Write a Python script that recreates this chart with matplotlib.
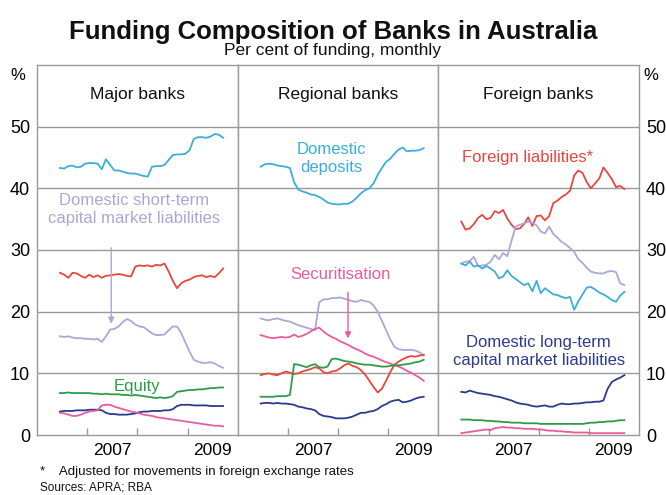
import numpy as np
import matplotlib
matplotlib.use("Agg")
import matplotlib.pyplot as plt

plt.rcParams['font.family'] = ['Liberation Sans', 'DejaVu Sans']

# ---------------- data (per cent of funding, monthly, Jun 2006 - Sep 2009) ----------------
n_months = 40
start_year = 2006 + 5.5 / 12
panels = ["Major banks", "Regional banks", "Foreign banks"]
year_ticks = [2007, 2008, 2009]
year_labels = ["2007", "2009"]
ytick_vals = [0, 10, 20, 30, 40, 50]

major_deposits = [43.3, 43.2, 43.6, 43.7, 43.4, 43.5, 44.0, 44.1, 44.1, 44.0, 43.1, 44.7, 43.8, 42.9,
                  42.9, 42.7, 42.5, 42.4, 42.4, 42.2, 42.0, 41.9, 43.5, 43.6, 43.6, 43.8, 44.6, 45.4,
                  45.5, 45.5, 45.6, 46.2, 48.0, 48.3, 48.3, 48.2, 48.4, 48.8, 48.7, 48.2]
major_foreign = [26.3, 26.0, 25.5, 26.3, 26.2, 25.8, 25.5, 26.0, 25.6, 25.9, 25.5, 25.8, 25.9, 26.0,
                 26.1, 26.0, 25.8, 25.7, 27.3, 27.5, 27.4, 27.5, 27.3, 27.6, 27.5, 27.8, 26.5, 25.0,
                 23.8, 24.6, 25.0, 25.2, 25.6, 25.8, 25.9, 25.6, 25.8, 25.6, 26.2, 27.0]
major_short = [16.0, 15.9, 16.0, 15.8, 15.7, 15.7, 15.6, 15.6, 15.5, 15.6, 15.1, 16.0, 17.1, 17.2,
               17.6, 18.3, 18.8, 18.5, 17.9, 17.6, 17.5, 17.0, 16.5, 16.2, 16.2, 16.3, 17.0, 17.6,
               17.6, 16.5, 15.0, 13.5, 12.2, 11.9, 11.7, 11.7, 11.8, 11.6, 11.2, 10.9]
major_equity = [6.8, 6.8, 6.9, 6.8, 6.8, 6.8, 6.8, 6.8, 6.7, 6.7, 6.6, 6.7, 6.6, 6.6,
                6.6, 6.5, 6.5, 6.4, 6.5, 6.4, 6.3, 6.2, 6.1, 6.0, 6.1, 6.0, 6.1, 6.3,
                7.0, 7.1, 7.2, 7.3, 7.3, 7.4, 7.4, 7.5, 7.6, 7.6, 7.7, 7.7]
major_long = [3.8, 3.9, 3.9, 3.9, 4.0, 4.0, 4.0, 4.1, 4.1, 4.1, 4.0, 3.6, 3.4, 3.4,
              3.3, 3.3, 3.3, 3.4, 3.5, 3.7, 3.8, 3.8, 3.9, 3.9, 3.9, 4.0, 4.0, 4.2,
              4.7, 4.9, 4.9, 4.9, 4.8, 4.8, 4.8, 4.8, 4.7, 4.7, 4.7, 4.7]
major_secur = [3.6, 3.5, 3.3, 3.1, 3.1, 3.3, 3.6, 3.8, 3.9, 4.0, 4.8, 4.9, 4.9, 4.6,
               4.4, 4.2, 4.0, 3.8, 3.7, 3.5, 3.3, 3.2, 3.1, 2.9, 2.8, 2.7, 2.6, 2.5,
               2.4, 2.3, 2.2, 2.1, 2.0, 1.9, 1.8, 1.7, 1.6, 1.5, 1.5, 1.4]

regional_deposits = [43.5, 43.9, 44.0, 43.9, 43.7, 43.6, 43.5, 43.3, 41.0, 39.8, 39.5, 39.3, 39.0, 38.9,
                     38.6, 38.2, 37.7, 37.5, 37.4, 37.4, 37.5, 37.5, 37.9, 38.5, 39.2, 39.7, 40.0, 40.8,
                     42.2, 43.3, 44.3, 44.8, 45.6, 46.3, 46.6, 46.0, 46.1, 46.1, 46.2, 46.5]
regional_short = [18.9, 18.7, 18.6, 18.8, 18.9, 18.7, 18.5, 18.4, 18.1, 17.8, 17.6, 17.4, 17.2, 17.0,
                  21.5, 22.0, 22.0, 22.2, 22.2, 22.3, 22.1, 21.9, 21.7, 21.6, 21.9, 21.7, 21.6, 21.0,
                  20.0, 18.5, 17.0, 15.5, 14.3, 13.9, 13.8, 13.8, 13.8, 13.7, 13.4, 12.9]
regional_secur = [16.2, 16.0, 15.8, 15.7, 15.8, 15.9, 15.8, 15.9, 16.3, 15.9, 16.1, 16.4, 16.8, 17.2,
                  17.4, 16.8, 16.3, 15.9, 15.6, 15.2, 14.9, 14.6, 14.2, 13.9, 13.6, 13.2, 12.9, 12.7,
                  12.4, 12.1, 11.8, 11.6, 11.3, 11.1, 10.8, 10.4, 10.1, 9.7, 9.3, 8.8]
regional_foreign = [9.7, 9.9, 10.0, 9.8, 9.7, 10.0, 10.3, 10.1, 9.9, 10.0, 10.3, 10.5, 10.7, 11.0,
                    10.8, 10.2, 10.0, 10.3, 10.4, 10.8, 11.3, 11.6, 11.2, 11.0, 10.5, 9.8, 8.8, 7.8,
                    6.9, 7.5, 8.8, 10.2, 11.4, 11.9, 12.3, 12.6, 12.8, 12.7, 12.9, 13.0]
regional_equity = [6.2, 6.2, 6.2, 6.2, 6.3, 6.3, 6.3, 6.5, 11.5, 11.4, 11.2, 11.0, 11.3, 11.5,
                   11.0, 10.9, 11.1, 12.3, 12.4, 12.2, 12.0, 11.9, 11.8, 11.6, 11.5, 11.4, 11.4, 11.3,
                   11.2, 11.1, 11.1, 11.2, 11.3, 11.3, 11.4, 11.5, 11.6, 11.8, 11.9, 12.2]
regional_long = [5.1, 5.2, 5.2, 5.1, 5.2, 5.1, 5.1, 5.0, 4.9, 4.6, 4.5, 4.3, 4.2, 4.0,
                 3.4, 3.1, 3.0, 2.9, 2.7, 2.7, 2.7, 2.8, 3.0, 3.3, 3.6, 3.6, 3.8, 3.9,
                 4.2, 4.7, 5.0, 5.4, 5.6, 5.7, 5.3, 5.4, 5.6, 5.9, 6.1, 6.2]

foreign_foreign = [34.6, 33.3, 33.5, 34.2, 35.2, 35.7, 35.0, 35.2, 36.3, 36.0, 36.5, 35.1, 34.1, 33.4,
                   33.5, 34.2, 35.3, 33.9, 35.5, 35.6, 34.8, 35.5, 37.6, 38.0, 38.6, 39.0, 39.6, 42.1,
                   42.9, 42.5, 41.0, 40.0, 40.8, 41.6, 43.4, 42.5, 41.5, 40.2, 40.4, 39.9]
foreign_short = [27.8, 28.1, 28.2, 28.9, 27.4, 27.5, 27.6, 28.1, 29.2, 28.5, 29.5, 29.0, 31.5, 33.8,
                 34.1, 34.3, 34.6, 34.4, 34.0, 33.0, 32.7, 33.8, 32.6, 32.0, 31.3, 30.9, 30.3, 29.7,
                 28.5, 27.9, 27.1, 26.5, 26.3, 26.2, 26.2, 26.5, 26.6, 26.4, 24.6, 24.3]
foreign_deposits = [27.8, 27.5, 28.1, 27.3, 27.5, 27.0, 27.4, 27.0, 26.5, 25.4, 25.7, 26.7, 25.8, 25.3,
                    24.8, 24.3, 24.6, 23.3, 25.0, 23.0, 23.8, 23.3, 22.8, 22.7, 22.4, 22.2, 22.4, 20.3,
                    21.7, 22.8, 23.9, 24.0, 23.6, 23.1, 22.8, 22.4, 21.9, 21.6, 22.6, 23.2]
foreign_long = [7.0, 6.9, 7.2, 7.0, 6.8, 6.7, 6.6, 6.5, 6.3, 6.2, 6.0, 5.8, 5.6, 5.3,
                5.1, 5.0, 4.9, 4.7, 4.6, 4.7, 4.8, 4.6, 4.6, 4.9, 5.1, 5.0, 5.0, 5.1,
                5.1, 5.2, 5.3, 5.3, 5.4, 5.4, 5.6, 7.5, 8.6, 9.0, 9.3, 9.7]
foreign_equity = [2.5, 2.5, 2.5, 2.4, 2.4, 2.4, 2.3, 2.3, 2.2, 2.2, 2.1, 2.1, 2.0, 2.0,
                  2.0, 1.9, 1.9, 1.9, 1.9, 1.8, 1.8, 1.8, 1.8, 1.8, 1.8, 1.8, 1.8, 1.8,
                  1.8, 1.8, 1.9, 2.0, 2.0, 2.1, 2.1, 2.2, 2.2, 2.3, 2.4, 2.4]
foreign_secur = [0.3, 0.4, 0.5, 0.6, 0.7, 0.8, 0.9, 0.8, 1.1, 1.2, 1.3, 1.2, 1.2, 1.1,
                 1.1, 1.0, 1.0, 1.0, 0.9, 0.9, 0.8, 0.7, 0.7, 0.6, 0.6, 0.5, 0.5, 0.4,
                 0.4, 0.4, 0.4, 0.3, 0.3, 0.3, 0.3, 0.3, 0.3, 0.3, 0.3, 0.3]

# ---------------- style ----------------
C_DEP = '#3AAFD8'
C_FOR = '#E8473C'
C_SHORT = '#ABA8D8'
C_EQ = '#2F9B4A'
C_LONG = '#2C3A8F'
C_SEC = '#E95C9E'
GRID = '#9A9A9A'
LABEL_FS = 12

x = start_year + np.arange(n_months) / 12.0

panel_series = [
    [(major_deposits, C_DEP), (major_foreign, C_FOR), (major_short, C_SHORT),
     (major_equity, C_EQ), (major_long, C_LONG), (major_secur, C_SEC)],
    [(regional_deposits, C_DEP), (regional_short, C_SHORT), (regional_secur, C_SEC),
     (regional_foreign, C_FOR), (regional_equity, C_EQ), (regional_long, C_LONG)],
    [(foreign_foreign, C_FOR), (foreign_short, C_SHORT), (foreign_deposits, C_DEP),
     (foreign_long, C_LONG), (foreign_equity, C_EQ), (foreign_secur, C_SEC)],
]

W, H = 666, 495
fig = plt.figure(figsize=(W / 100, H / 100), dpi=100)

left_px, right_px, top_px, bot_px = 37, 639, 65, 435
pw = (right_px - left_px) / 3.0
axes = []
for k in range(3):
    ax = fig.add_axes([(left_px + k * pw) / W, (H - bot_px) / H, pw / W, (bot_px - top_px) / H])
    axes.append(ax)
    ax.set_xlim(2006, 2010)
    ax.set_ylim(0, 60)
    for yv in ytick_vals[1:]:
        ax.axhline(yv, color=GRID, lw=1.0, zorder=0)
    for s in ax.spines.values():
        s.set_color(GRID)
        s.set_linewidth(1.0)
    for vals, col in panel_series[k]:
        ax.plot(x, vals, color=col, lw=1.3, zorder=3)
    ax.set_xticks(year_ticks)
    ax.set_xticklabels([])
    ax.tick_params(axis='x', which='major', direction='in', length=5, color=GRID, width=1)
    ax.set_xticks([2007.5, 2009.5], minor=True)
    ax.set_xticklabels(year_labels, minor=True, fontsize=12.5)
    ax.tick_params(axis='x', which='minor', length=0, pad=6)
    ax.set_yticks(ytick_vals)
    ax.tick_params(axis='y', length=0)
    if k == 0:
        ax.tick_params(axis='y', labelleft=True, labelright=False, labelsize=13, pad=5)
    elif k == 2:
        ax.tick_params(axis='y', labelleft=False, labelright=True, labelsize=13, pad=5)
    else:
        ax.tick_params(axis='y', labelleft=False, labelright=False)
    ax.text(0.5, 55.2 / 60, panels[k], transform=ax.transAxes, ha='center', va='center',
            fontsize=12.5, color='#111111')

# title / subtitle
fig.text(0.5, 1 - 32 / H, "Funding Composition of Banks in Australia", ha='center', va='center',
         fontsize=18.5, fontweight='bold', color='#111111')
fig.text(0.5, 1 - 51 / H, "Per cent of funding, monthly", ha='center', va='center',
         fontsize=12.5, color='#111111')
fig.text(18 / W, 1 - 75 / H, "%", ha='center', va='center', fontsize=12)
fig.text(651 / W, 1 - 75 / H, "%", ha='center', va='center', fontsize=12)

# series labels
a0, a1, a2 = axes
a0.text(2007.93, 36.6, "Domestic short-term\ncapital market liabilities", ha='center', va='center',
        fontsize=LABEL_FS, color=C_SHORT, linespacing=1.25)
a0.annotate("", xy=(2007.48, 17.6), xytext=(2007.48, 30.8),
            arrowprops=dict(arrowstyle='-|>', color=C_SHORT, lw=1.0, mutation_scale=9))
a0.text(2008.0, 7.9, "Equity", ha='center', va='center', fontsize=LABEL_FS, color=C_EQ)

a1.text(2007.87, 44.9, "Domestic\ndeposits", ha='center', va='center', fontsize=LABEL_FS, color=C_DEP,
        linespacing=1.25)
a1.text(2008.05, 26.1, "Securitisation", ha='center', va='center', fontsize=LABEL_FS, color=C_SEC)
a1.annotate("", xy=(2008.2, 15.2), xytext=(2008.2, 23.6),
            arrowprops=dict(arrowstyle='-|>', color=C_SEC, lw=1.0, mutation_scale=9))

a2.text(2007.77, 45.0, "Foreign liabilities*", ha='center', va='center', fontsize=LABEL_FS, color=C_FOR)
a2.text(2008.0, 13.6, "Domestic long-term\ncapital market liabilities", ha='center', va='center',
        fontsize=LABEL_FS, color=C_LONG, linespacing=1.25)

# footnotes
fig.text(40 / W, 1 - 472 / H, "*    Adjusted for movements in foreign exchange rates", ha='left', va='center',
         fontsize=9.5, color='#111111')
fig.text(40 / W, 1 - 488 / H, "Sources: APRA; RBA", ha='left', va='center', fontsize=8.5, color='#111111')

fig.savefig("out.png", dpi=100)
